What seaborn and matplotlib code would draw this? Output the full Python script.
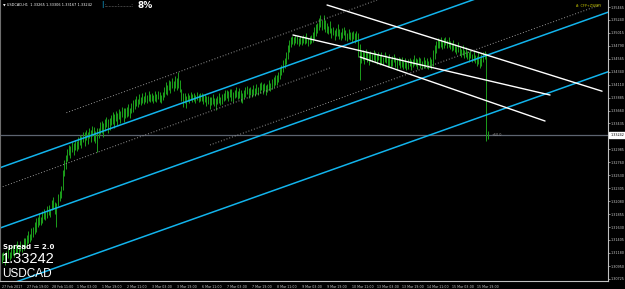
import matplotlib
matplotlib.use("Agg")
import matplotlib.pyplot as plt
import seaborn as sns
import pandas as pd
import numpy as np

# ---------------- data ----------------
symbol = "USDCAD"
timeframe = "H1"
ohlc_now = [1.33265, 1.33306, 1.33167, 1.33242]
last_price = 1.33242
spread_text = "Spread = 2.0"
depth_pct = "8%"
top_right_label = "A: CFP+ZSNRY"
level_note = "+50.0"

highs = [
    1.3118, 1.3120, 1.3118, 1.3121, 1.3127, 1.3120, 1.3130, 1.3132, 1.3125, 1.3133, 1.3139, 1.3130, 1.3139, 1.3133, 1.3144, 1.3144,
    1.3149, 1.3156, 1.3151, 1.3161, 1.3163, 1.3172, 1.3179, 1.3181, 1.3187, 1.3181, 1.3191, 1.3194, 1.3189, 1.3200, 1.3201, 1.3194,
    1.3210, 1.3215, 1.3207, 1.3205, 1.3221, 1.3226, 1.3235, 1.3262, 1.3280, 1.3289, 1.3299, 1.3306, 1.3304, 1.3311, 1.3310, 1.3315,
    1.3313, 1.3320, 1.3323, 1.3322, 1.3329, 1.3329, 1.3332, 1.3329, 1.3336, 1.3332, 1.3339, 1.3337, 1.3330, 1.3336, 1.3336, 1.3346,
    1.3348, 1.3344, 1.3351, 1.3355, 1.3351, 1.3353, 1.3358, 1.3364, 1.3360, 1.3365, 1.3362, 1.3369, 1.3365, 1.3372, 1.3370, 1.3370,
    1.3372, 1.3377, 1.3370, 1.3379, 1.3384, 1.3386, 1.3391, 1.3386, 1.3395, 1.3390, 1.3397, 1.3391, 1.3398, 1.3393, 1.3400, 1.3395,
    1.3397, 1.3393, 1.3400, 1.3395, 1.3400, 1.3398, 1.3393, 1.3398, 1.3407, 1.3416, 1.3411, 1.3419, 1.3418, 1.3423, 1.3418, 1.3426,
    1.3423, 1.3433, 1.3419, 1.3404, 1.3397, 1.3397, 1.3391, 1.3397, 1.3393, 1.3398, 1.3395, 1.3397, 1.3393, 1.3398, 1.3395, 1.3397,
    1.3397, 1.3395, 1.3395, 1.3391, 1.3391, 1.3390, 1.3390, 1.3395, 1.3388, 1.3388, 1.3391, 1.3397, 1.3390, 1.3395, 1.3397, 1.3402,
    1.3402, 1.3400, 1.3404, 1.3404, 1.3398, 1.3402, 1.3407, 1.3400, 1.3405, 1.3402, 1.3397, 1.3402, 1.3407, 1.3409, 1.3405, 1.3407,
    1.3404, 1.3411, 1.3405, 1.3412, 1.3407, 1.3414, 1.3416, 1.3412, 1.3414, 1.3411, 1.3412, 1.3419, 1.3414, 1.3421, 1.3425, 1.3428,
    1.3428, 1.3433, 1.3442, 1.3445, 1.3454, 1.3458, 1.3468, 1.3480, 1.3489, 1.3494, 1.3496, 1.3494, 1.3498, 1.3496, 1.3492, 1.3496,
    1.3494, 1.3498, 1.3496, 1.3501, 1.3492, 1.3496, 1.3498, 1.3503, 1.3512, 1.3517, 1.3519, 1.3527, 1.3533, 1.3524, 1.3533, 1.3524,
    1.3519, 1.3513, 1.3522, 1.3510, 1.3512, 1.3506, 1.3510, 1.3517, 1.3508, 1.3503, 1.3510, 1.3512, 1.3506, 1.3501, 1.3508, 1.3503,
    1.3503, 1.3505, 1.3501, 1.3505, 1.3501, 1.3482, 1.3470, 1.3472, 1.3468, 1.3473, 1.3468, 1.3466, 1.3470, 1.3465, 1.3472, 1.3468,
    1.3465, 1.3468, 1.3463, 1.3468, 1.3459, 1.3468, 1.3463, 1.3459, 1.3465, 1.3456, 1.3461, 1.3465, 1.3459, 1.3458, 1.3459, 1.3458,
    1.3459, 1.3452, 1.3458, 1.3451, 1.3456, 1.3458, 1.3454, 1.3456, 1.3463, 1.3458, 1.3456, 1.3459, 1.3458, 1.3452, 1.3459, 1.3454,
    1.3458, 1.3452, 1.3459, 1.3456, 1.3472, 1.3480, 1.3487, 1.3492, 1.3489, 1.3494, 1.3487, 1.3492, 1.3494, 1.3489, 1.3494, 1.3487,
    1.3484, 1.3489, 1.3482, 1.3479, 1.3486, 1.3477, 1.3473, 1.3480, 1.3472, 1.3477, 1.3470, 1.3468, 1.3472, 1.3465, 1.3470, 1.3463,
    1.3461, 1.3468, 1.3458, 1.3465, 1.3468, 1.3470, 1.3466, 1.3331,
]
lows = [
    1.3100, 1.3106, 1.3097, 1.3107, 1.3109, 1.3106, 1.3109, 1.3114, 1.3111, 1.3116, 1.3118, 1.3116, 1.3121, 1.3120, 1.3123, 1.3127,
    1.3132, 1.3135, 1.3137, 1.3140, 1.3146, 1.3151, 1.3154, 1.3163, 1.3167, 1.3167, 1.3170, 1.3177, 1.3175, 1.3179, 1.3184, 1.3181,
    1.3193, 1.3194, 1.3186, 1.3163, 1.3200, 1.3208, 1.3214, 1.3228, 1.3252, 1.3264, 1.3278, 1.3289, 1.3283, 1.3294, 1.3289, 1.3297,
    1.3296, 1.3299, 1.3306, 1.3301, 1.3311, 1.3304, 1.3315, 1.3308, 1.3318, 1.3311, 1.3322, 1.3313, 1.3310, 1.3294, 1.3318, 1.3325,
    1.3327, 1.3320, 1.3330, 1.3337, 1.3327, 1.3332, 1.3341, 1.3343, 1.3336, 1.3348, 1.3341, 1.3351, 1.3344, 1.3355, 1.3346, 1.3353,
    1.3355, 1.3357, 1.3353, 1.3362, 1.3364, 1.3369, 1.3374, 1.3372, 1.3377, 1.3376, 1.3379, 1.3377, 1.3381, 1.3379, 1.3383, 1.3381,
    1.3383, 1.3379, 1.3383, 1.3381, 1.3386, 1.3381, 1.3379, 1.3384, 1.3390, 1.3395, 1.3393, 1.3402, 1.3397, 1.3405, 1.3400, 1.3405,
    1.3402, 1.3405, 1.3398, 1.3383, 1.3372, 1.3379, 1.3370, 1.3383, 1.3379, 1.3384, 1.3381, 1.3383, 1.3379, 1.3384, 1.3381, 1.3383,
    1.3383, 1.3377, 1.3381, 1.3374, 1.3377, 1.3369, 1.3376, 1.3377, 1.3374, 1.3367, 1.3377, 1.3379, 1.3376, 1.3377, 1.3383, 1.3384,
    1.3388, 1.3383, 1.3390, 1.3383, 1.3381, 1.3388, 1.3390, 1.3386, 1.3388, 1.3381, 1.3379, 1.3388, 1.3390, 1.3395, 1.3388, 1.3393,
    1.3390, 1.3393, 1.3391, 1.3395, 1.3393, 1.3397, 1.3402, 1.3395, 1.3400, 1.3393, 1.3398, 1.3402, 1.3400, 1.3404, 1.3407, 1.3411,
    1.3411, 1.3416, 1.3421, 1.3428, 1.3433, 1.3440, 1.3447, 1.3456, 1.3468, 1.3477, 1.3482, 1.3480, 1.3484, 1.3482, 1.3479, 1.3482,
    1.3480, 1.3484, 1.3482, 1.3484, 1.3479, 1.3482, 1.3484, 1.3486, 1.3491, 1.3496, 1.3501, 1.3506, 1.3512, 1.3506, 1.3508, 1.3503,
    1.3501, 1.3499, 1.3501, 1.3492, 1.3498, 1.3489, 1.3496, 1.3496, 1.3491, 1.3489, 1.3492, 1.3498, 1.3489, 1.3487, 1.3491, 1.3489,
    1.3486, 1.3491, 1.3484, 1.3487, 1.3459, 1.3419, 1.3449, 1.3454, 1.3447, 1.3456, 1.3451, 1.3445, 1.3452, 1.3451, 1.3454, 1.3451,
    1.3447, 1.3454, 1.3445, 1.3447, 1.3445, 1.3451, 1.3449, 1.3442, 1.3444, 1.3442, 1.3444, 1.3451, 1.3442, 1.3437, 1.3445, 1.3440,
    1.3442, 1.3439, 1.3440, 1.3437, 1.3439, 1.3444, 1.3437, 1.3442, 1.3445, 1.3444, 1.3439, 1.3445, 1.3440, 1.3439, 1.3442, 1.3440,
    1.3440, 1.3439, 1.3442, 1.3439, 1.3444, 1.3456, 1.3466, 1.3475, 1.3475, 1.3477, 1.3473, 1.3475, 1.3480, 1.3475, 1.3477, 1.3473,
    1.3470, 1.3472, 1.3468, 1.3465, 1.3468, 1.3463, 1.3459, 1.3463, 1.3458, 1.3459, 1.3456, 1.3451, 1.3458, 1.3451, 1.3452, 1.3449,
    1.3444, 1.3447, 1.3440, 1.3444, 1.3451, 1.3456, 1.3313, 1.3317,
]

x_labels = ["27 Feb 2017", "27 Feb 19:00", "28 Feb 11:00", "1 Mar 03:00", "1 Mar 19:00",
            "2 Mar 11:00", "3 Mar 03:00", "3 Mar 19:00", "6 Mar 11:00", "7 Mar 03:00",
            "7 Mar 19:00", "8 Mar 11:00", "9 Mar 03:00", "9 Mar 19:00", "10 Mar 11:00",
            "13 Mar 03:00", "13 Mar 19:00", "14 Mar 11:00", "15 Mar 03:00", "15 Mar 19:00"]
bars_per_label = 16

y_ticks = [1.30725, 1.30950, 1.31180, 1.31405, 1.31630, 1.31855, 1.32080, 1.32305,
           1.32530, 1.32760, 1.32985, 1.33210, 1.33435, 1.33660, 1.33885, 1.34110,
           1.34340, 1.34565, 1.34790, 1.35015, 1.35240, 1.35465]

# trend objects: (bar start, price start, bar end, price end)
cyan_lines = [(-1.1, 1.32664, 388.0, 1.36425),
              (-1.1, 1.31613, 388.0, 1.35374),
              (-1.1, 1.30575, 388.0, 1.34336)]
dotted_lines = [(41.4, 1.33623, 240.2, 1.35587),
                (-1.1, 1.32316, 210.1, 1.34404),
                (133.3, 1.33060, 382.9, 1.35500)]
white_lines = [(208.2, 1.35500, 384.2, 1.33998),
               (186.4, 1.34977, 350.9, 1.33931),
               (229.3, 1.34594, 347.7, 1.33478)]

# ---------------- style ----------------
sns.set_theme(style="dark", rc={"axes.facecolor": "black", "figure.facecolor": "black",
                                "axes.edgecolor": "#c0c0c0", "text.color": "white",
                                "xtick.color": "#c8c8c8", "ytick.color": "#c8c8c8"})
plt.rcParams["font.family"] = ["DejaVu Sans"]

fig = plt.figure(figsize=(6.25, 2.89), dpi=100)
ax = fig.add_axes([0.0, 8 / 289, 608 / 625, 281 / 289])
ax.set_facecolor("black")

idx = np.arange(len(highs))
green = "#1b9e1b"
ax.vlines(idx, lows, highs, color=green, lw=0.7)

ax.axhline(last_price, color="#5d6470", lw=0.9, zorder=1)

def draw(lines, **kw):
    for x0, y0, x1, y1 in lines:
        df = pd.DataFrame({"x": [x0, x1], "y": [y0, y1]})
        sns.lineplot(data=df, x="x", y="y", ax=ax, **kw)

draw(cyan_lines, color="#12b4ec", lw=1.1)
draw(white_lines, color="white", lw=1.0)
draw(dotted_lines, color="#9a9a9a", lw=0.7, linestyle=(0, (1, 2)))

ax.set_xlim(-1.09, 388.0)
ax.set_ylim(1.30690, 1.35587)
ax.set_xlabel("")
ax.set_ylabel("")

ax.set_xticks(np.arange(len(x_labels)) * bars_per_label)
ax.set_xticklabels(x_labels, ha="left", fontsize=2.3)
ax.tick_params(axis="x", length=2, width=0.5, pad=0.6, direction="out", colors="#c8c8c8")
ax.yaxis.tick_right()
ax.set_yticks(y_ticks)
# the tick label under the current-price box is hidden by that box
ax.set_yticklabels(["" if abs(v - last_price) < 0.0006 else f"{v:.5f}" for v in y_ticks],
                   fontsize=2.4)
ax.tick_params(axis="y", length=1.5, width=0.5, pad=0.4, direction="out", colors="#c8c8c8")
ax.grid(False)
ax.spines["top"].set_visible(False)
ax.spines["right"].set_color("#c0c0c0")
ax.spines["bottom"].set_color("#c0c0c0")
ax.spines["left"].set_color("#6e6e6e")
for s in ["right", "bottom", "left"]:
    ax.spines[s].set_linewidth(0.8)

# current price label on right axis
ax.annotate(f"{last_price:.5f}", xy=(1.0, last_price), xycoords=("axes fraction", "data"),
            xytext=(1.6, 0), textcoords="offset points", fontsize=2.4, color="black",
            va="center", ha="left",
            bbox=dict(boxstyle="square,pad=0.3", fc="white", ec="white"))
ax.annotate(level_note, xy=(len(highs) + 1.5, last_price), xycoords="data",
            fontsize=2.4, color="#9a9a9a", va="center", ha="left")

# header
hdr = f"\u25bc {symbol},{timeframe}  " + " ".join(f"{v:.5f}" for v in ohlc_now)
fig.text(3 / 625, 1 - 5 / 289, hdr, fontsize=2.5, color="white", va="center", ha="left")
fig.text(101 / 625, 1 - 5 / 289, "|", fontsize=5, color="#12b4ec", va="center", ha="left")
fig.text(104 / 625, 1 - 5.5 / 289, ":" + "." * 8 + ":" + "." * 8 + ":", fontsize=3.5,
         color="#b0b0b0", va="center", ha="left")
fig.text(137 / 625, 1 - 6 / 289, depth_pct, fontsize=6.5, color="white", va="center",
         ha="left", fontweight="bold")
fig.text(576 / 625, 1 - 6 / 289, top_right_label, fontsize=2.4, color="#c8c800",
         va="center", ha="left")

# bottom-left info
fig.text(3 / 625, 1 - 247 / 289, spread_text, fontsize=5.0, color="white",
         fontweight="bold", va="center", ha="left")
fig.text(2 / 625, 1 - 259 / 289, f"{last_price:.5f}", fontsize=10.5, color="white",
         va="center", ha="left", family=["Liberation Sans", "DejaVu Sans"])
fig.text(2 / 625, 1 - 274 / 289, symbol, fontsize=8.5, color="white",
         va="center", ha="left", family=["Liberation Sans", "DejaVu Sans"])

fig.savefig("out.png", dpi=100, facecolor="black")
